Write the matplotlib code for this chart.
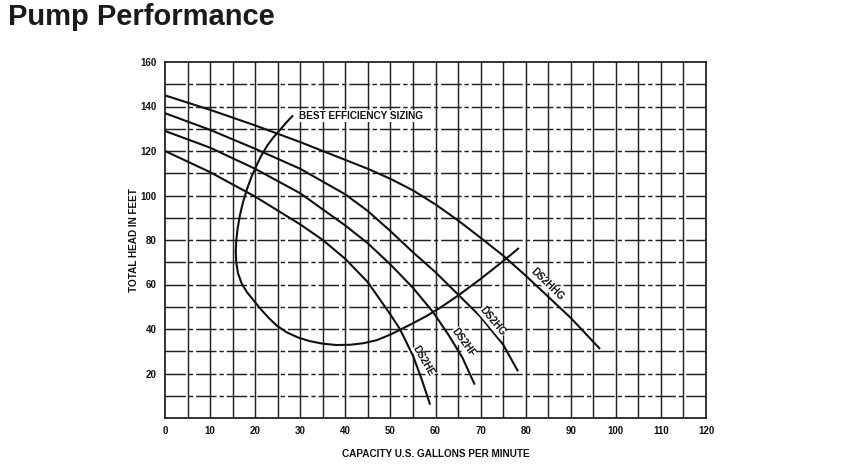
import matplotlib
matplotlib.use("Agg")
import matplotlib.pyplot as plt

plt.rcParams['font.family'] = ['Liberation Sans', 'DejaVu Sans']

# ---- data ----
ds2he_x = [0, 10, 20, 30, 35, 40, 45, 50, 52.1, 55, 57, 58.8]
ds2he_y = [120, 110.5, 99.5, 87, 80, 71.5, 61, 46.5, 40, 28, 17, 6]

ds2hf_x = [0, 10, 20, 30, 40, 45, 50, 55, 59.5, 63, 66, 68.7]
ds2hf_y = [129, 121.5, 112, 101, 86.5, 78.5, 69, 58.5, 47.5, 37, 27, 15]

ds2hg_x = [0, 10, 20, 30, 40, 45, 50, 55, 60, 65, 70, 75, 78.3]
ds2hg_y = [137, 129.5, 121, 112, 100.5, 93, 84, 74.5, 65.5, 55.5, 45.5, 33, 21]

ds2hhg_x = [0, 10, 20, 30, 40, 45, 50, 55, 60, 65, 70, 75, 80, 85, 90, 96.5]
ds2hhg_y = [145, 138.5, 131.5, 124, 116, 112, 107.5, 102.3, 96, 88.8, 81, 73, 64, 54.5, 45, 31]

bes_x = [28.4, 27.0, 25.5, 24.0, 22.7, 21.5, 20.3, 19.2, 18.2, 17.3, 16.6, 16.1,
         15.8, 15.7, 15.8, 16.2, 17.0, 18.2, 19.6, 21.2, 23.0, 24.8, 27.0, 29.5,
         32.0, 35.0, 38.0, 41.0, 44.0, 47.0, 50.0, 52.1, 55.0, 58.0, 61.0, 65.0,
         70.0, 75.0, 78.5]
bes_y = [136, 133, 129.5, 126, 122.5, 118.5, 113.5, 108.5, 103, 97, 91, 85,
         79.5, 75, 70, 65, 60.5, 56.5, 53, 49, 45, 41.5, 38.5, 36.2,
         34.6, 33.4, 32.8, 32.9, 33.6, 35, 37.5, 39.6, 42.6, 45.8, 49.5, 55,
         62.5, 70.5, 76.4]

x_ticks = [0, 10, 20, 30, 40, 50, 60, 70, 80, 90, 100, 110, 120]
y_ticks = [20, 40, 60, 80, 100, 120, 140, 160]

labels = ["DS2HE", "DS2HF", "DS2HG", "DS2HHG"]
label_pos_x = [57.4, 66.2, 72.6, 84.9]
label_pos_y = [25.6, 33.9, 43.3, 60.2]
label_rot = [-60, -54, -50, -44]

# ---- figure ----
fig = plt.figure(figsize=(8.43, 4.66), dpi=100)
ax = fig.add_axes([165/843, 1-418/466, (706-165)/843, (418-62)/466])

ax.set_xlim(0, 120)
ax.set_ylim(0, 160)

# grid
for gx in range(5, 120, 5):
    ax.axvline(gx, color='#222222', lw=1.05, zorder=1)
for gy in range(10, 160, 10):
    ax.axhline(gy, color='#222222', lw=1.05, ls=(0, (14, 2, 3, 2)), zorder=1)

for xs, ys in [(ds2he_x, ds2he_y), (ds2hf_x, ds2hf_y), (ds2hg_x, ds2hg_y),
               (ds2hhg_x, ds2hhg_y), (bes_x, bes_y)]:
    ax.plot(xs, ys, color='#111111', lw=1.5, zorder=3, solid_capstyle='butt',
            solid_joinstyle='round')

for t, lx, ly, r in zip(labels, label_pos_x, label_pos_y, label_rot):
    ax.text(lx, ly, t, rotation=r, ha='center', va='center', fontsize=7.2,
            fontweight='bold', color='#111111', zorder=4,
            bbox=dict(facecolor='white', edgecolor='none', pad=0.3))

ax.text(29.8, 135.8, "BEST EFFICIENCY SIZING", ha='left', va='center',
        fontsize=7.2, fontweight='bold', color='#111111', zorder=4,
        bbox=dict(facecolor='white', edgecolor='none', pad=0.5))

ax.set_xticks(x_ticks)
ax.set_yticks(y_ticks)
ax.set_xticklabels([str(v) for v in x_ticks], fontsize=7, fontweight='bold')
ax.set_yticklabels([str(v) for v in y_ticks], fontsize=7, fontweight='bold')
ax.tick_params(length=0, pad=6, colors='#111111')

for s in ax.spines.values():
    s.set_color('#111111')
    s.set_linewidth(1.2)

ax.set_xlabel("CAPACITY U.S. GALLONS PER MINUTE", fontsize=7.2,
              fontweight='bold', labelpad=9, color='#111111')
ax.set_ylabel("TOTAL HEAD IN FEET", fontsize=7.2, fontweight='bold',
              labelpad=1, color='#111111')

fig.text(8/843, 1-17/466, "Pump Performance", ha='left', va='center',
         fontsize=21, fontweight='bold', color='#1a1a1a')

fig.savefig("out.png", dpi=100)
